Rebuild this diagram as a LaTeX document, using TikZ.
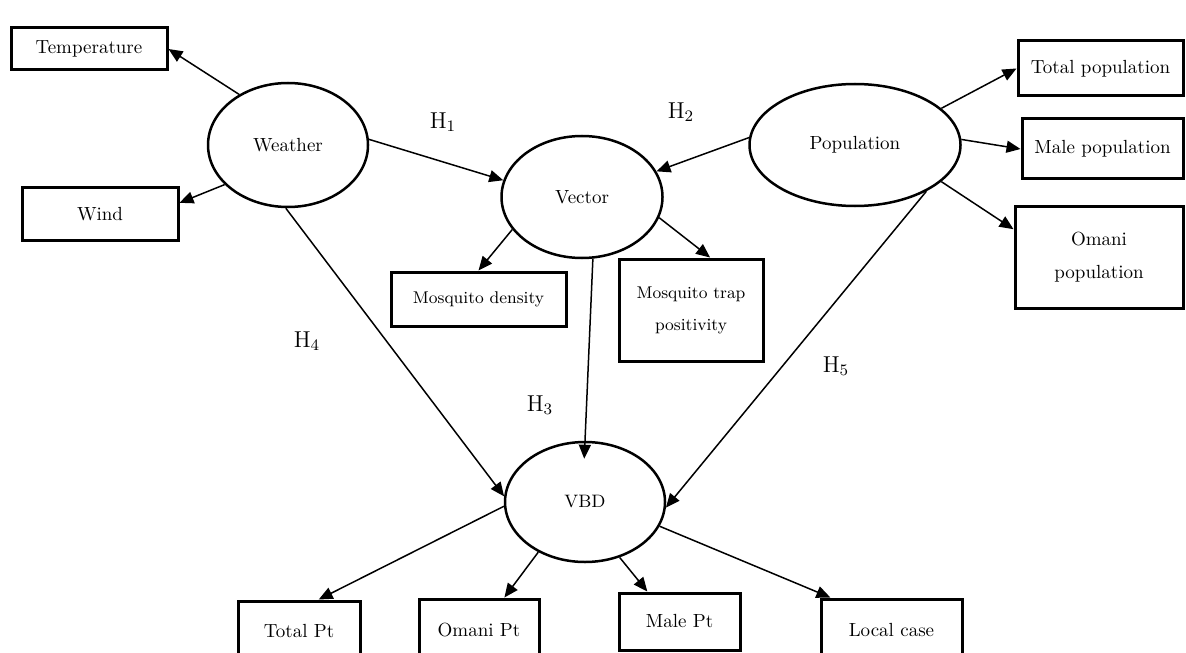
\documentclass[tikz,border=0pt]{standalone}
\usetikzlibrary{shapes.geometric,arrows.meta,calc}
\begin{document}
\begin{tikzpicture}[x=0.5pt,y=-0.5pt,
  box/.style={draw, line width=1.5pt, inner sep=0pt, align=center, font=\fontsize{9.5}{16.5}\selectfont},
  smallbox/.style={box, font=\fontsize{8.5}{16}\selectfont},
  latent/.style={ellipse, draw, line width=1.25pt, inner sep=0pt, font=\fontsize{9.5}{12}\selectfont},
  arr/.style={-{Triangle[length=7pt,width=6pt]}, line width=0.75pt},
  hlab/.style={font=\fontsize{11.5}{14}\selectfont, inner sep=0pt}]
\path[use as bounding box] (0,0) rectangle (1186,652);

% latent variables
\node[latent, minimum width=80pt, minimum height=62pt] (weather) at (288,145) {Weather};
\node[latent, minimum width=80.5pt, minimum height=61pt] (vector) at (582,197) {Vector};
\node[latent, minimum width=105.5pt, minimum height=61pt] (pop) at (855,145) {Population};
\node[latent, minimum width=80pt, minimum height=60pt, font=\fontsize{9}{11}\selectfont] (vbd) at (585,502) {VBD};

% indicators
\node[box, minimum width=78pt, minimum height=21pt] (temp) at (89,49) {Temperature};
\node[box, minimum width=78pt, minimum height=26pt] (wind) at (100,214) {Wind};
\node[box, minimum width=82.5pt, minimum height=27.5pt] (totpop) at (1100.5,68.5) {Total population};
\node[box, minimum width=80.5pt, minimum height=30pt] (malepop) at (1102.5,149) {Male population};
\node[box, minimum width=84pt, minimum height=51pt] (omanipop) at (1099,257) {Omani\\population};
\node[smallbox, minimum width=87.5pt, minimum height=27pt] (mdens) at (478.5,299) {Mosquito density};
\node[smallbox, minimum width=72pt, minimum height=51pt] (mtrap) at (691,310) {Mosquito trap\\positivity};
\node[box, minimum width=61pt, minimum height=30pt] (totpt) at (299,631) {Total Pt};
\node[box, minimum width=60pt, minimum height=31pt] (omanipt) at (479,630) {Omani Pt};
\node[box, minimum width=60.5pt, minimum height=28.5pt] (malept) at (679.5,621.5) {Male Pt};
\node[box, minimum width=70.5pt, minimum height=31pt] (local) at (891.5,630) {Local case};

% hypothesis labels
\node[hlab] (h1) at (443,122) {H$_1$};
\node[hlab] (h2) at (681,112) {H$_2$};
\node[hlab] (h3) at (540,405) {H$_3$};
\node[hlab] (h4) at (307,341) {H$_4$};
\node[hlab] (h5) at (836,366) {H$_5$};

% connectors
\draw[arr] (weather.134) -- (temp.east);
\draw[arr] (weather.212) -- (wind.8);
\draw[arr] (weather.4) -- (vector.168);
\draw[arr] (weather.268) -- (vbd.176);
\draw[arr] (pop.176) -- (vector.19);
\draw[arr] (pop.23) -- (totpop.west);
\draw[arr] (pop.3) -- (malepop.west);
\draw[arr] (pop.337) -- (omanipop.162);
\draw[arr] (pop.327) -- (vbd.356);
\draw[arr] (vector.205) -- (mdens.north);
\draw[arr] (vector.345) -- (mtrap.70);
\draw[arr, shorten >=-9pt] (vector.280) -- (vbd.north);
\draw[arr] (vbd.183) -- (totpt.58);
\draw[arr] (vbd.227) -- (omanipt.52);
\draw[arr] (vbd.302) -- (malept.137);
\draw[arr] (vbd.342) -- (local.152);
\end{tikzpicture}
\end{document}
